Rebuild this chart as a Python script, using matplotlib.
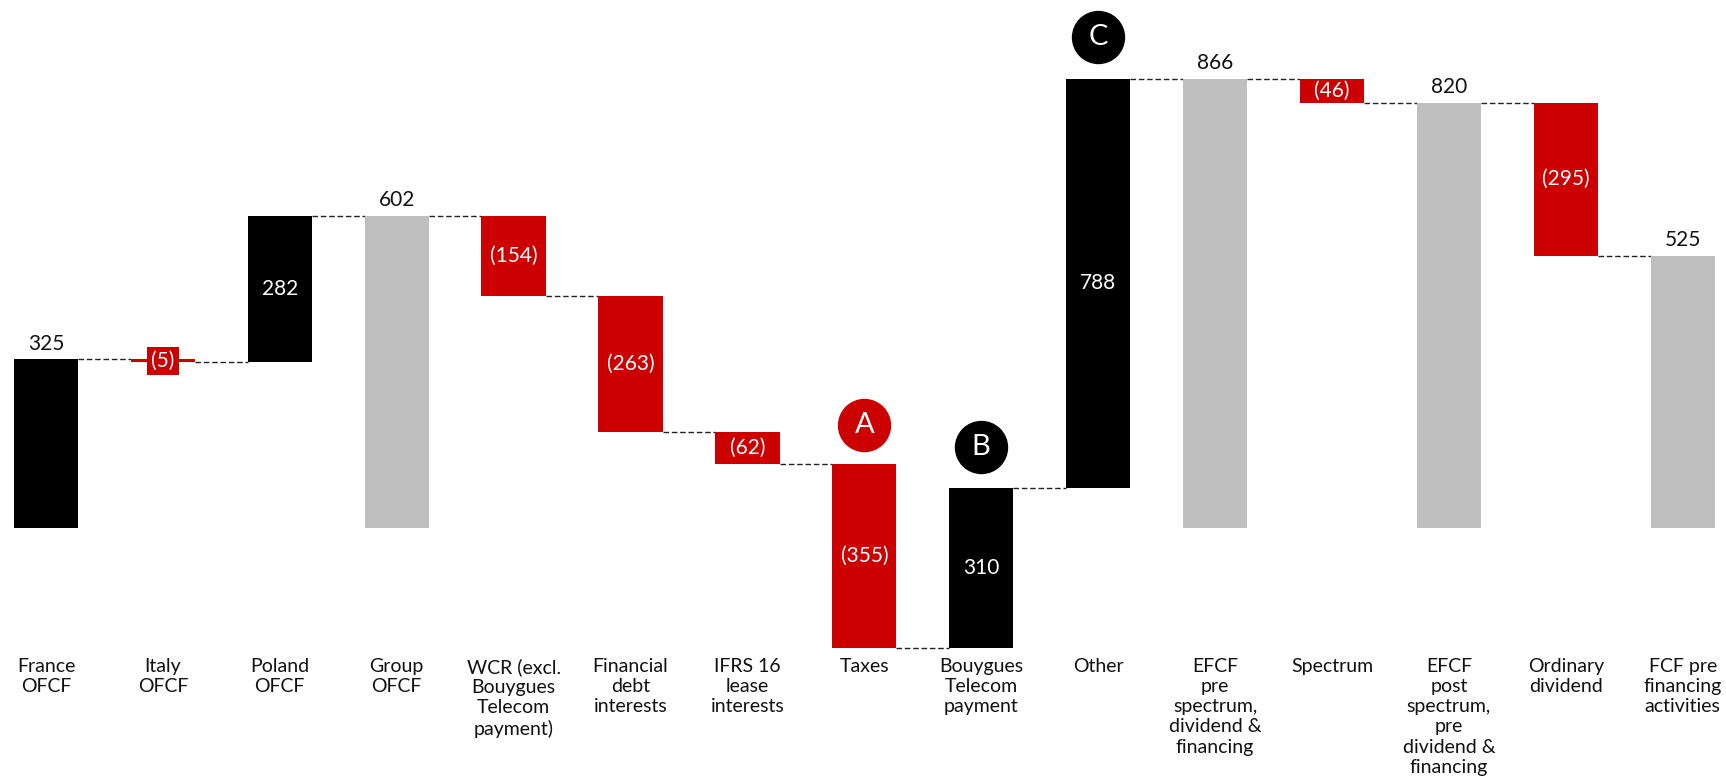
import matplotlib
matplotlib.use("Agg")
import matplotlib.pyplot as plt

categories = ["France\nOFCF", "Italy\nOFCF", "Poland\nOFCF", "Group\nOFCF",
              "WCR (excl.\nBouygues\nTelecom\npayment)", "Financial\ndebt\ninterests",
              "IFRS 16\nlease\ninterests", "Taxes", "Bouygues\nTelecom\npayment", "Other",
              "EFCF\npre\nspectrum,\ndividend &\nfinancing", "Spectrum",
              "EFCF\npost\nspectrum,\npre\ndividend &\nfinancing", "Ordinary\ndividend",
              "FCF pre\nfinancing\nactivities"]
values = [325, -5, 282, 602, -154, -263, -62, -355, 310, 788, 866, -46, 820, -295, 525]
is_total = [False, False, False, True, False, False, False, False, False, False,
            True, False, True, False, True]

# circled letters: (bar index, letter, colour, height)
badges = [(7, "A", "#CC0000", 199), (8, "B", "#000000", 156), (9, "C", "#000000", 947)]

RED = "#CC0000"
GREY = "#BFBFBF"
BLACK = "#000000"

plt.rcParams['font.family'] = ['Lato', 'DejaVu Sans']

fig = plt.figure(figsize=(17.26, 7.76), dpi=100)
ax = fig.add_axes([0, 0, 1, 1])
ax.set_xlim(-0.393, 14.37)
ax.set_ylim(-478, 1018)
ax.axis("off")

w = 0.55
running = 0
levels = []
for i, (v, tot) in enumerate(zip(values, is_total)):
    if tot:
        bottom, color = 0, GREY
        running = v
    else:
        bottom = running
        color = BLACK if v > 0 else RED
        running = running + v
    ax.bar(i, v, bottom=bottom, width=w, color=color, zorder=2)
    levels.append(running)
    top = max(bottom, bottom + v)
    mid = bottom + v / 2
    txt = str(v) if v > 0 else "(%d)" % abs(v)
    if tot or i == 0:
        ax.annotate(txt, (i, top), xytext=(0, 4), textcoords="offset points",
                    ha="center", va="bottom", fontsize=15, color="#111111")
    elif abs(v) < 20:
        ax.text(i, mid, txt, ha="center", va="center", fontsize=15, color="white", zorder=4,
                bbox=dict(boxstyle="square,pad=0.2", fc=RED, ec="none"))
    else:
        ax.text(i, mid, txt, ha="center", va="center", fontsize=15, color="white", zorder=4)
    ax.text(i, -251, categories[i], ha="center", va="top", fontsize=14,
            color="#111111", linespacing=1.22, multialignment="center")

for i in range(len(values) - 1):
    ax.plot([i + w / 2, i + 1 - w / 2], [levels[i], levels[i]], color="#222222",
            lw=1, ls=(0, (4, 2)), zorder=1)

for i, letter, col, y in badges:
    ax.scatter([i], [y], s=1400, color=col, zorder=5)
    ax.text(i, y, letter, ha="center", va="center", fontsize=21, color="white", zorder=6)

fig.savefig("out.png", dpi=100)
